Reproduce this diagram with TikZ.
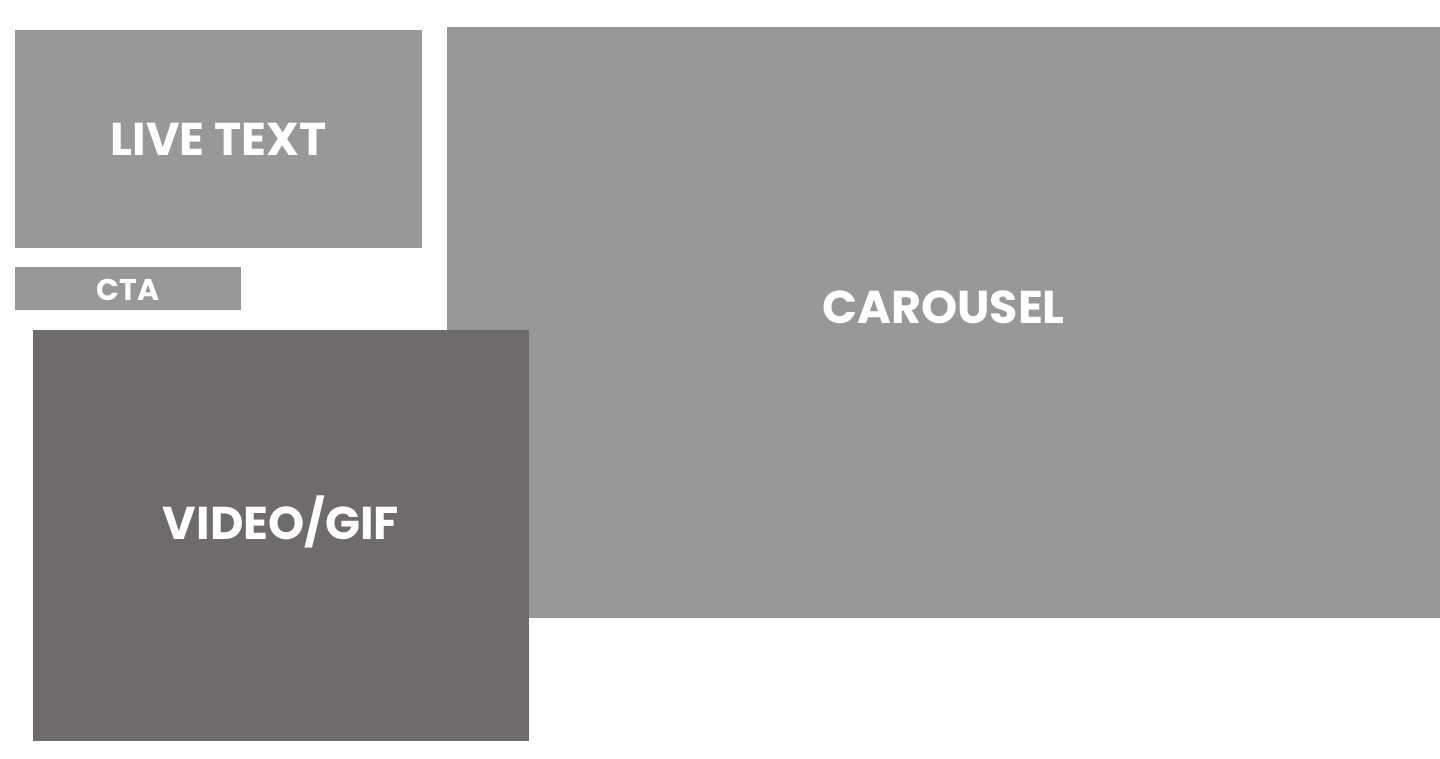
\documentclass[tikz,border=0pt]{standalone}
\usepackage{fontspec}
\setmainfont{Poppins}[BoldFont={* Bold}]
\definecolor{lightbox}{HTML}{989898}
\definecolor{darkbox}{HTML}{6F6B6C}
\begin{document}
\begin{tikzpicture}[x=1pt,y=-1pt,
  panel/.style={fill=lightbox,draw=none,inner sep=0pt,outer sep=0pt},
  darkpanel/.style={fill=darkbox,draw=none,inner sep=0pt,outer sep=0pt},
  bigtxt/.style={text=white,font=\bfseries\fontsize{46}{46}\selectfont,inner sep=0pt},
  smalltxt/.style={text=white,font=\bfseries\fontsize{30}{30}\selectfont,inner sep=0pt}]
\useasboundingbox[fill=white] (0,0) rectangle (1440,758);
\node[panel,minimum width=407,minimum height=218] (live) at (218.5,139) {};
\node[panel,minimum width=226,minimum height=43] (cta) at (128,288.5) {};
\node[panel,minimum width=993,minimum height=591] (carousel) at (943.5,322.5) {};
\node[darkpanel,minimum width=496,minimum height=411] (video) at (281,535.5) {};
\node[bigtxt] (livet) at (live.center) {LIVE TEXT};
\node[smalltxt] (ctat) at ([yshift=-1]cta.center) {CTA};
\node[bigtxt] (carouselt) at ([yshift=15]carousel.center) {CAROUSEL};
\node[bigtxt] (videot) at ([yshift=14]video.center) {VIDEO/GIF};
\end{tikzpicture}
\end{document}
